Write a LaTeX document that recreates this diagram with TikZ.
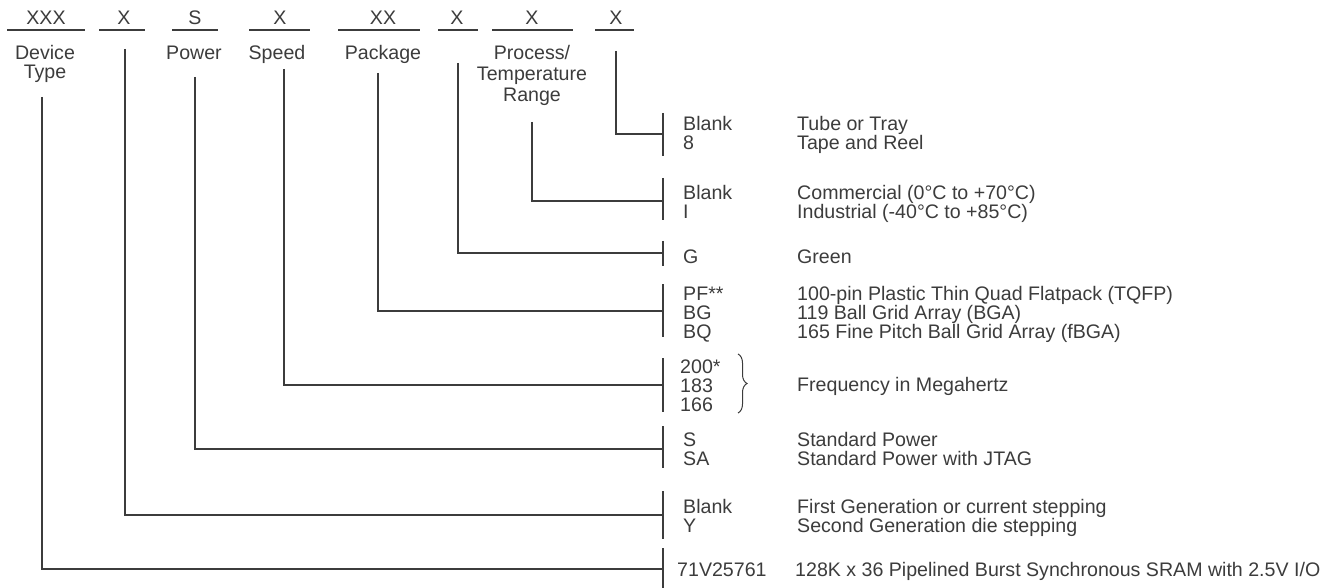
\documentclass[tikz,border=0pt]{standalone}
\usepackage{fontspec}
\setmainfont{Liberation Sans}
\usetikzlibrary{decorations.pathreplacing}
\definecolor{ink}{HTML}{3C3C3C}
\begin{document}
\begin{tikzpicture}[x=1pt,y=-1pt,
  lbl/.style={inner sep=0pt, text=ink, font=\fontsize{19.6}{19}\selectfont},
  ln/.style={draw=ink, line width=1.8pt},
  ul/.style={draw=ink, line width=1.9pt},
  brc/.style={draw=ink, line width=1pt, decorate, decoration={brace, amplitude=9pt}},
]
\useasboundingbox (0,0) rectangle (1336,588);

% ---- top fields ----
\node[lbl,anchor=base] (f1) at (46,25) {XXX};
\node[lbl,anchor=base] (f2) at (124,25) {X};
\node[lbl,anchor=base] (f3) at (195,25) {S};
\node[lbl,anchor=base] (f4) at (280,25) {X};
\node[lbl,anchor=base] (f5) at (383,25) {XX};
\node[lbl,anchor=base] (f6) at (457,25) {X};
\node[lbl,anchor=base] (f7) at (532,25) {X};
\node[lbl,anchor=base] (f8) at (616,25) {X};
\coordinate (u1a) at (7,30);   \coordinate (u1b) at (85,30);
\coordinate (u2a) at (99,30);  \coordinate (u2b) at (145,30);
\coordinate (u3a) at (172,30); \coordinate (u3b) at (218,30);
\coordinate (u4a) at (249,30); \coordinate (u4b) at (310,30);
\coordinate (u5a) at (338,30); \coordinate (u5b) at (420,30);
\coordinate (u6a) at (438,30); \coordinate (u6b) at (478,30);
\coordinate (u7a) at (492,30); \coordinate (u7b) at (573,30);
\coordinate (u8a) at (595,30); \coordinate (u8b) at (634,30);
\foreach \i in {1,...,8} { \draw[ul] (u\i a) -- (u\i b); }

% ---- field captions ----
\node[lbl,anchor=base] (cap1a) at (45,60) {Device};
\node[lbl,anchor=base] (cap1b) at (45,79) {Type};
\node[lbl,anchor=base] (cap3) at (194,60) {Power};
\node[lbl,anchor=base] (cap4) at (277,60) {Speed};
\node[lbl,anchor=base] (cap5) at (383,60) {Package};
\node[lbl,anchor=base] (cap7a) at (532,60) {Process/};
\node[lbl,anchor=base] (cap7b) at (532,81) {Temperature};
\node[lbl,anchor=base] (cap7c) at (532,102) {Range};

% ---- connector start points ----
\coordinate (t1) at (42,97);
\coordinate (t2) at (125,49);
\coordinate (t3) at (195,77);
\coordinate (t4) at (284,69);
\coordinate (t5) at (378,73);
\coordinate (t6) at (458,63);
\coordinate (t7) at (532,122);
\coordinate (t8) at (616,51);

% ---- bars (top, joint, bottom) ----
\coordinate (b8t) at (663,113); \coordinate (m8) at (663,134); \coordinate (b8b) at (663,156);
\coordinate (b7t) at (663,178); \coordinate (m7) at (663,201); \coordinate (b7b) at (663,220);
\coordinate (b6t) at (663,241); \coordinate (m6) at (663,253); \coordinate (b6b) at (663,266);
\coordinate (b5t) at (663,284); \coordinate (m5) at (663,311); \coordinate (b5b) at (663,337);
\coordinate (b4t) at (663,358); \coordinate (m4) at (663,385); \coordinate (b4b) at (663,412);
\coordinate (b3t) at (663,426); \coordinate (m3) at (663,449); \coordinate (b3b) at (663,468);
\coordinate (b2t) at (663,491); \coordinate (m2) at (663,515); \coordinate (b2b) at (663,539);
\coordinate (b1t) at (663,548); \coordinate (m1) at (663,569); \coordinate (b1b) at (663,588);
\foreach \i in {1,...,8} {
  \draw[ln] (b\i t) -- (b\i b);
  \draw[ln] (t\i) |- (m\i);
}

% ---- codes and meanings ----
% last X: packing
\node[lbl,anchor=base west] (c8a) at (683,131) {Blank};
\node[lbl,anchor=base west] (c8b) at (683,150) {8};
\node[lbl,anchor=base west] (d8a) at (797,131) {Tube or Tray};
\node[lbl,anchor=base west] (d8b) at (797,150) {Tape and Reel};
% process/temperature
\node[lbl,anchor=base west] (c7a) at (683,200) {Blank};
\node[lbl,anchor=base west] (c7b) at (683,219) {I};
\node[lbl,anchor=base west] (d7a) at (797,200) {Commercial (0°C to +70°C)};
\node[lbl,anchor=base west] (d7b) at (797,219) {Industrial (-40°C to +85°C)};
% green
\node[lbl,anchor=base west] (c6a) at (683,263) {G};
\node[lbl,anchor=base west] (d6a) at (797,263) {Green};
% package
\node[lbl,anchor=base west] (c5a) at (683,300) {PF**};
\node[lbl,anchor=base west] (c5b) at (683,319) {BG};
\node[lbl,anchor=base west] (c5c) at (683,338) {BQ};
\node[lbl,anchor=base west] (d5a) at (797,300) {100-pin Plastic Thin Quad Flatpack (TQFP)};
\node[lbl,anchor=base west] (d5b) at (797,319) {119 Ball Grid Array (BGA)};
\node[lbl,anchor=base west] (d5c) at (797,338) {165 Fine Pitch Ball Grid Array (fBGA)};
% speed
\node[lbl,anchor=base west] (c4a) at (680,373) {200*};
\node[lbl,anchor=base west] (c4b) at (680,392) {183};
\node[lbl,anchor=base west] (c4c) at (680,411) {166};
\coordinate (br1) at (738,354); \coordinate (br2) at (738,413);
\draw[brc] (br1) -- (br2);
\node[lbl,anchor=base west] (d4a) at (797,391) {Frequency in Megahertz};
% power
\node[lbl,anchor=base west] (c3a) at (683,446) {S};
\node[lbl,anchor=base west] (c3b) at (683,465) {SA};
\node[lbl,anchor=base west] (d3a) at (797,446) {Standard Power};
\node[lbl,anchor=base west] (d3b) at (797,465) {Standard Power with JTAG};
% die stepping
\node[lbl,anchor=base west] (c2a) at (683,513) {Blank};
\node[lbl,anchor=base west] (c2b) at (683,532) {Y};
\node[lbl,anchor=base west] (d2a) at (797,513) {First Generation or current stepping};
\node[lbl,anchor=base west] (d2b) at (797,532) {Second Generation die stepping};
% device type
\node[lbl,anchor=base west] (c1a) at (677,576) {71V25761};
\node[lbl,anchor=base west] (d1a) at (795,576) {128K x 36 Pipelined Burst Synchronous SRAM with 2.5V I/O};
\end{tikzpicture}
\end{document}
